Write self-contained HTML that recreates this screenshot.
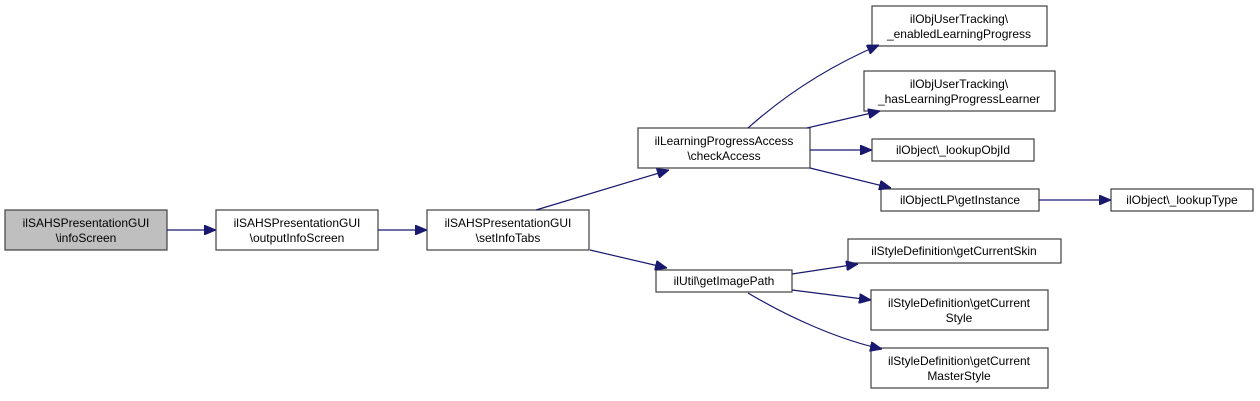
<!DOCTYPE html>
<html><head><meta charset="utf-8"><style>
html,body{margin:0;padding:0;background:#fff;}
svg{display:block;}
text{font-family:"Liberation Sans",sans-serif;font-size:12px;fill:#000;text-anchor:middle;}
rect{stroke:#404040;stroke-width:1.2;fill:#fff;}
path.e{stroke:#191970;stroke-width:1.2;fill:none;}
</style></head><body>
<svg width="1260" height="401" viewBox="0 0 1260 401">
<defs><marker id="a" markerWidth="12" markerHeight="10" refX="12" refY="5" orient="auto" markerUnits="userSpaceOnUse"><path d="M0,0 L12,5 L0,10 Z" fill="#191970" stroke="#191970"/></marker></defs>

<rect x="5" y="210" width="162" height="40" style="fill:#bfbfbf"/>
<text x="86" y="227">ilSAHSPresentationGUI</text><text x="86" y="242">\infoScreen</text>
<rect x="216" y="210" width="162" height="40"/>
<text x="297" y="227">ilSAHSPresentationGUI</text><text x="297" y="242">\outputInfoScreen</text>
<rect x="427" y="210" width="162" height="40"/>
<text x="508" y="227">ilSAHSPresentationGUI</text><text x="508" y="242">\setInfoTabs</text>
<rect x="638" y="128" width="172" height="40"/>
<text x="724" y="145">ilLearningProgressAccess</text><text x="724" y="160">\checkAccess</text>
<rect x="656" y="270" width="136" height="22"/>
<text x="724" y="285">ilUtil\getImagePath</text>
<rect x="872" y="6" width="175" height="40"/>
<text x="959" y="23">ilObjUserTracking\</text><text x="959" y="38">_enabledLearningProgress</text>
<rect x="864" y="71" width="191" height="40"/>
<text x="959" y="88">ilObjUserTracking\</text><text x="959" y="103">_hasLearningProgressLearner</text>
<rect x="872" y="139" width="162" height="22"/>
<text x="953" y="154">ilObject\_lookupObjId</text>
<rect x="881" y="189" width="158" height="22"/>
<text x="960" y="204">ilObjectLP\getInstance</text>
<rect x="1111" y="189" width="142" height="22"/>
<text x="1182" y="204">ilObject\_lookupType</text>
<rect x="848" y="239" width="213" height="24"/>
<text x="954" y="255">ilStyleDefinition\getCurrentSkin</text>
<rect x="871" y="290" width="177" height="40"/>
<text x="959" y="307">ilStyleDefinition\getCurrent</text><text x="959" y="322">Style</text>
<rect x="871" y="348" width="177" height="40"/>
<text x="959" y="365">ilStyleDefinition\getCurrent</text><text x="959" y="380">MasterStyle</text>

<path class="e" d="M167,230 L216,230" marker-end="url(#a)"/>
<path class="e" d="M378,230 L427,230" marker-end="url(#a)"/>
<path class="e" d="M536,210 L669,170" marker-end="url(#a)"/>
<path class="e" d="M590,250 L667,268" marker-end="url(#a)"/>
<path class="e" d="M748,128 C785,95 830,66 879,45" marker-end="url(#a)"/>
<path class="e" d="M807,128 L880,111" marker-end="url(#a)"/>
<path class="e" d="M810,150 L872,150" marker-end="url(#a)"/>
<path class="e" d="M810,168 L891,188" marker-end="url(#a)"/>
<path class="e" d="M1039,200 L1111,200" marker-end="url(#a)"/>
<path class="e" d="M792,274 L858,264" marker-end="url(#a)"/>
<path class="e" d="M792,290 L871,300" marker-end="url(#a)"/>
<path class="e" d="M748,293 C790,318 840,340 882,349" marker-end="url(#a)"/>
</svg>
</body></html>
